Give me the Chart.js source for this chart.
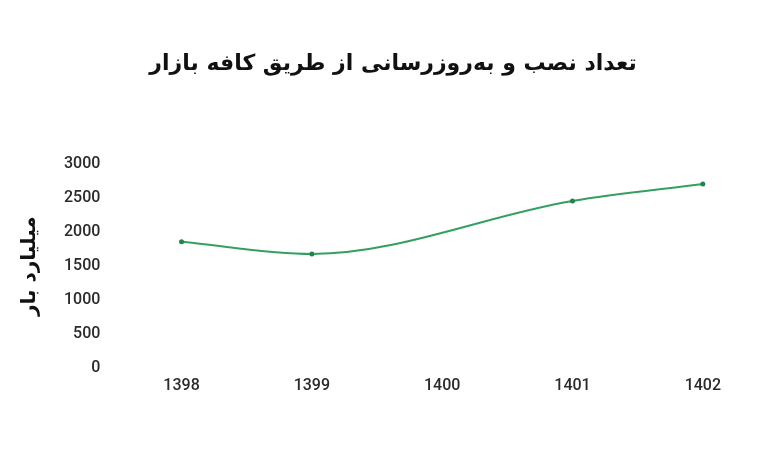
<!DOCTYPE html>
<html>
<head>
<meta charset="utf-8">
<script src="https://cdn.jsdelivr.net/npm/chart.js@4.4.0/dist/chart.umd.min.js"></script>
<style>
  html, body { margin: 0; padding: 0; background: #ffffff; }
  #wrap { width: 780px; height: 470px; }
</style>
</head>
<body>
<div id="wrap"><canvas id="chart" width="780" height="470"></canvas></div>
<script>
// data
const years = ['1398', '1399', '1400', '1401', '1402'];
const installs = [1860, 1680, null, 2460, 2710]; // no marker at 1400
const yTicks = [0, 500, 1000, 1500, 2000, 2500, 3000];

const titleText = 'تعداد نصب و به‌روزرسانی از طریق کافه بازار';
const yTitleText = 'میلیارد بار';

const tickFont = { family: 'Roboto', size: 16, weight: '500' };

new Chart(document.getElementById('chart'), {
    type: 'line',
    data: {
        labels: years,
        datasets: [{
            data: installs,
            borderColor: '#33a061',
            backgroundColor: '#23844b',
            borderWidth: 2,
            pointRadius: 2.5,
            pointBackgroundColor: '#23844b',
            pointBorderWidth: 0,
            cubicInterpolationMode: 'monotone',
            spanGaps: true,
            fill: false
        }]
    },
    options: {
        responsive: false,
        animation: false,
        layout: {
            padding: { left: 18, right: 12, top: 51, bottom: 73 }
        },
        plugins: {
            legend: { display: false },
            tooltip: { enabled: false },
            title: {
                display: true,
                text: titleText,
                color: '#111111',
                font: { family: 'DejaVu Sans', size: 22, weight: 'bold' },
                padding: { top: 0, bottom: 87 }
            }
        },
        scales: {
            x: {
                offset: true,
                grid: { display: false },
                border: { display: false },
                ticks: { color: '#2a2a2a', font: tickFont, padding: 1 }
            },
            y: {
                min: 0,
                max: 3000,
                afterBuildTicks: axis => {
                    axis.ticks = yTicks.map(v => ({ value: v }));
                },
                grid: { display: false },
                border: { display: false },
                ticks: {
                    color: '#2a2a2a',
                    font: tickFont,
                    padding: 8,
                    callback: v => String(v)
                },
                title: {
                    display: true,
                    text: yTitleText,
                    color: '#111111',
                    font: { family: 'DejaVu Sans', size: 20, weight: 'bold' },
                    padding: { top: 0, bottom: 14 }
                }
            }
        }
    }
});
</script>
</body>
</html>
